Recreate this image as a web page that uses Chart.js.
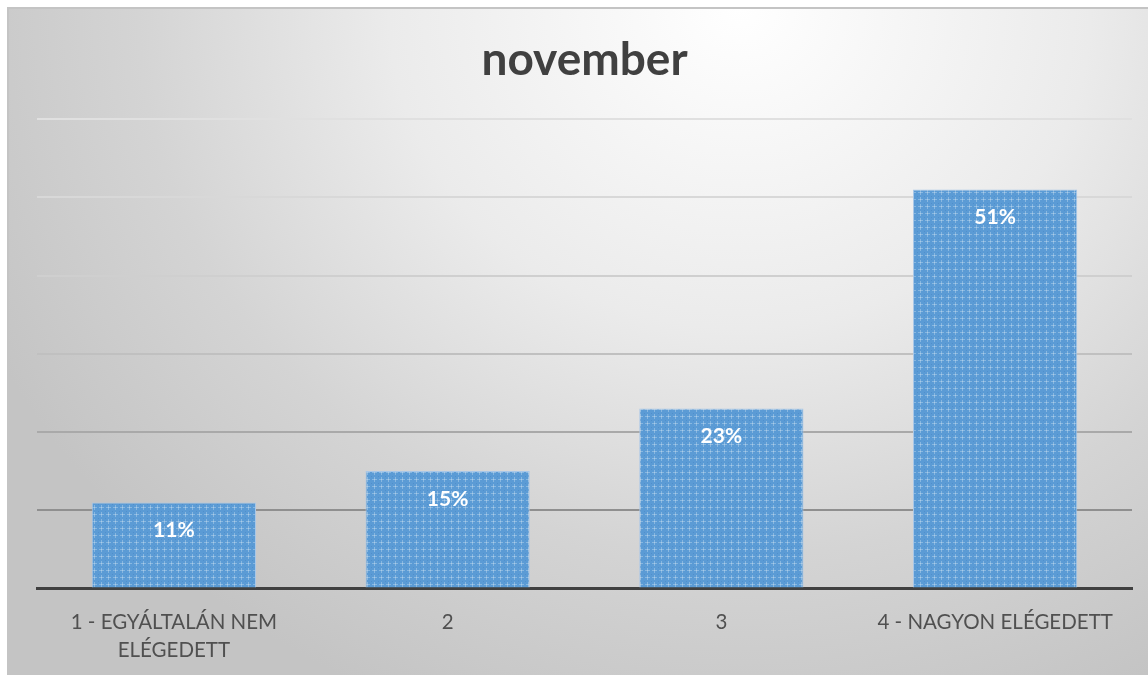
<!DOCTYPE html>
<html>
<head>
<meta charset="utf-8">
<script src="https://cdn.jsdelivr.net/npm/chart.js@4/dist/chart.umd.min.js"></script>
<style>
  html, body { margin: 0; padding: 0; background: #fff; overflow: hidden; }
  #bg {
    position: absolute; left: 7px; top: 7px; width: 1160px; height: 690px;
    border-left: 2px solid #c4c4c4; border-top: 2px solid #c4c4c4;
    background: radial-gradient(ellipse 72% 110% at 63% 0%, #ffffff 0%, #ebebeb 42%, #d4d4d4 72%, #c4c4c4 100%);
  }
  #chart { position: absolute; left: 0; top: 0; }
</style>
</head>
<body>
<div id="bg"></div>
<canvas id="chart" width="1148" height="677"></canvas>
<script>
const categories = [['1 - EGYÁLTALÁN NEM', 'ELÉGEDETT'], '2', '3', '4 - NAGYON ELÉGEDETT'];
const values = [11, 15, 23, 51];
const yTicks = [0, 10, 20, 30, 40, 50, 60];

// grid lines get darker toward the bottom, like in the original
const gridColors = ['rgba(0,0,0,0)', '#8f8f8f', '#a9a9a9', '#c0c0c0', '#cfcfcf', '#d8d8d8', '#e0e0e0'];

function barPattern() {
  const c = document.createElement('canvas');
  c.width = 7; c.height = 7;
  const g = c.getContext('2d');
  g.fillStyle = '#5b9bd5';
  g.fillRect(0, 0, 7, 7);
  g.fillStyle = 'rgba(255,255,255,0.28)';
  g.fillRect(3, 1, 1, 5);
  g.fillRect(1, 3, 5, 1);
  g.fillStyle = 'rgba(60,120,190,0.35)';
  g.fillRect(0, 0, 1, 1);
  return g.createPattern(c, 'repeat');
}

const valueLabels = {
  id: 'valueLabels',
  afterDatasetsDraw(chart) {
    const ctx = chart.ctx;
    const meta = chart.getDatasetMeta(0);
    ctx.save();
    ctx.font = 'bold 21px Lato, "Open Sans", sans-serif';
    ctx.fillStyle = '#ffffff';
    ctx.textAlign = 'center';
    ctx.textBaseline = 'middle';
    meta.data.forEach((bar, i) => {
      ctx.fillText(values[i] + '%', bar.x, bar.y + 28);
    });
    ctx.restore();
  }
};

new Chart(document.getElementById('chart'), {
  type: 'bar',
  data: {
    labels: categories,
    datasets: [{
      data: values,
      backgroundColor: barPattern(),
      borderColor: '#a8c7e8',
      borderWidth: 1,
      borderSkipped: 'bottom',
      barPercentage: 0.6,
      categoryPercentage: 1.0
    }]
  },
  options: {
    responsive: false,
    animation: false,
    layout: { padding: { left: 37, right: 16, top: 0, bottom: 0 } },
    plugins: {
      legend: { display: false },
      tooltip: { enabled: false },
      title: {
        display: true,
        text: 'november',
        color: '#404040',
        font: { family: 'Lato, "Open Sans", sans-serif', size: 46, weight: 'bold', lineHeight: 1.2 },
        padding: { top: 33, bottom: 31 }
      }
    },
    scales: {
      x: {
        grid: { display: false },
        border: { display: true, color: '#404040', width: 3 },
        ticks: {
          color: '#505050',
          font: { family: 'Lato, "Open Sans", sans-serif', size: 20.5, lineHeight: 1.38 },
          padding: 12,
          maxRotation: 0,
          autoSkip: false
        }
      },
      y: {
        min: yTicks[0],
        max: yTicks[yTicks.length - 1],
        afterBuildTicks: scale => { scale.ticks = yTicks.map(v => ({ value: v })); },
        ticks: { display: false },
        border: { display: false },
        grid: {
          drawTicks: false,
          lineWidth: 2,
          color: ctx => gridColors[ctx.index] || '#d0d0d0'
        }
      }
    }
  },
  plugins: [valueLabels]
});
</script>
</body>
</html>
